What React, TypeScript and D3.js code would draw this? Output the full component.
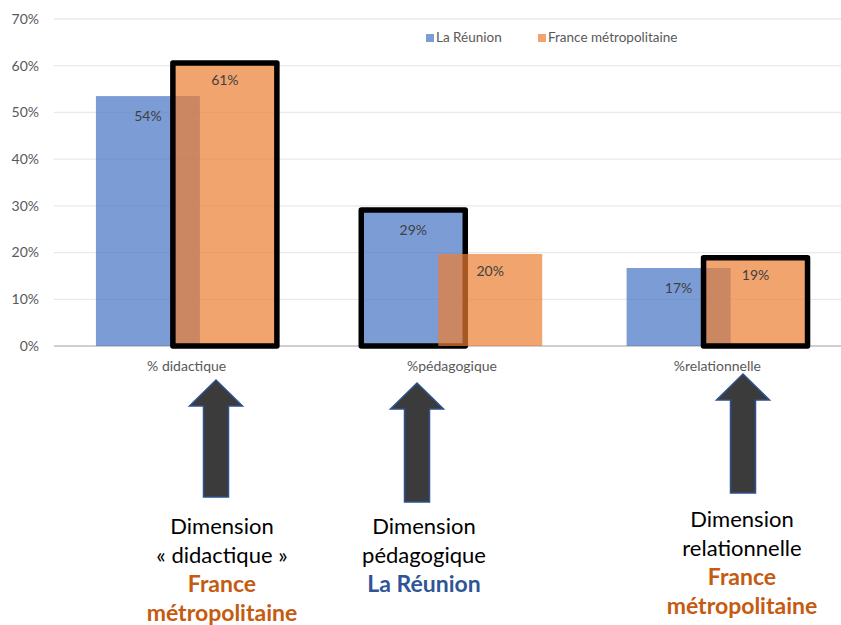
import React from "react";
import * as d3 from "d3";

const categories = ["% didactique", "%pédagogique", "%relationnelle"];
const seriesNames = ["La Réunion", "France métropolitaine"];
const reunion = [0.535, 0.291, 0.167];
const metropole = [0.606, 0.197, 0.189];
const highlighted = ["France métropolitaine", "La Réunion", "France métropolitaine"];
const yTicks = [0, 0.1, 0.2, 0.3, 0.4, 0.5, 0.6, 0.7];

const noteLines = [
  ["Dimension", "« didactique »"],
  ["Dimension", "pédagogique"],
  ["Dimension", "relationnelle"],
];
const noteHighlight = [
  ["France", "métropolitaine"],
  ["La Réunion"],
  ["France", "métropolitaine"],
];

const W = 841;
const H = 625;
const FONT = "Lato, 'Open Sans', sans-serif";
const BLUE = "#4472c4";
const ORANGE = "#ed7d31";
const HL_COLOR: Record<string, string> = {
  "La Réunion": "#2f5597",
  "France métropolitaine": "#c55a11",
};

// layout of annotations (arrows and text)
const arrowX = [216, 417, 743];
const arrowTop = [380, 383, 374];
const arrowBottom = [497, 502, 493];
const noteX = [222, 424, 742];
const noteY = [534, 534, 527];

export default function App() {
  const x = d3.scaleBand<string>().domain(categories).range([54, 850]).padding(0);
  const y = d3.scaleLinear().domain([0, 0.7]).range([346, 19]);
  const bw = x.bandwidth();
  const barW = bw * 0.392;
  const blueOff = bw * 0.158;
  const orangeOff = blueOff + bw * 0.29;
  const fmt = d3.format(".0%");

  const arrowPath = (cx: number, top: number, bottom: number) => {
    const headHalf = 26.5;
    const shaftHalf = 12.5;
    const headH = 26;
    const p = d3.path();
    p.moveTo(cx, top);
    p.lineTo(cx + headHalf, top + headH);
    p.lineTo(cx + shaftHalf, top + headH);
    p.lineTo(cx + shaftHalf, bottom);
    p.lineTo(cx - shaftHalf, bottom);
    p.lineTo(cx - shaftHalf, top + headH);
    p.lineTo(cx - headHalf, top + headH);
    p.closePath();
    return p.toString();
  };

  return (
    <svg width={W} height={H} style={{ position: "absolute", left: 0, top: 0, background: "#fff" }} fontFamily={FONT}>
      {yTicks.map((t) => (
        <g key={t}>
          <line x1={54} x2={W} y1={y(t)} y2={y(t)} stroke={t === 0 ? "#bfbfbf" : "#e9e9e9"} strokeWidth={1.3} />
          <text x={39} y={y(t)} dy="0.35em" textAnchor="end" fontSize={14} fill="#595959">
            {fmt(t)}
          </text>
        </g>
      ))}
      <rect x={426} y={34} width={8} height={8} fill={BLUE} opacity={0.7} />
      <text x={436} y={42} fontSize={13.5} fill="#595959">{seriesNames[0]}</text>
      <rect x={538} y={34} width={8} height={8} fill={ORANGE} opacity={0.7} />
      <text x={548} y={42} fontSize={13.5} fill="#595959">{seriesNames[1]}</text>

      {categories.map((c, i) => {
        const bx = (x(c) as number) + blueOff;
        const ox = (x(c) as number) + orangeOff;
        const hlBlue = highlighted[i] === seriesNames[0];
        return (
          <g key={c}>
            <rect x={bx} y={y(reunion[i])} width={barW} height={y(0) - y(reunion[i])} fill={BLUE} fillOpacity={0.7}
              stroke={hlBlue ? "#000" : "none"} strokeWidth={5.5} strokeLinejoin="round" />
            <rect x={ox} y={y(metropole[i])} width={barW} height={y(0) - y(metropole[i])} fill={ORANGE} fillOpacity={0.7} />
            {!hlBlue && (
              <rect x={ox} y={y(metropole[i])} width={barW} height={y(0) - y(metropole[i])} fill="none"
                stroke="#000" strokeWidth={5.5} strokeLinejoin="round" />
            )}
            <text x={bx + barW / 2} y={y(reunion[i]) + 20} dy="0.35em" textAnchor="middle" fontSize={14} fill="#404040">
              {fmt(reunion[i])}
            </text>
            <text x={ox + barW / 2} y={y(metropole[i]) + 17} dy="0.35em" textAnchor="middle" fontSize={14} fill="#404040">
              {fmt(metropole[i])}
            </text>
            <text x={(x(c) as number) + bw / 2} y={371} textAnchor="middle" fontSize={14} fill="#595959">
              {c}
            </text>
            <path d={arrowPath(arrowX[i], arrowTop[i], arrowBottom[i])} fill="#3b3b3b" stroke="#2f528f" strokeWidth={1.5} />
            {noteLines[i].map((l, j) => (
              <text key={"n" + j} x={noteX[i]} y={noteY[i] + j * 29} textAnchor="middle" fontSize={22} fill="#000">
                {l}
              </text>
            ))}
            {noteHighlight[i].map((l, j) => (
              <text key={"h" + j} x={noteX[i]} y={noteY[i] + (noteLines[i].length + j) * 29} textAnchor="middle"
                fontSize={23} fontWeight="bold" fill={HL_COLOR[highlighted[i]]}>
                {l}
              </text>
            ))}
          </g>
        );
      })}
    </svg>
  );
}
